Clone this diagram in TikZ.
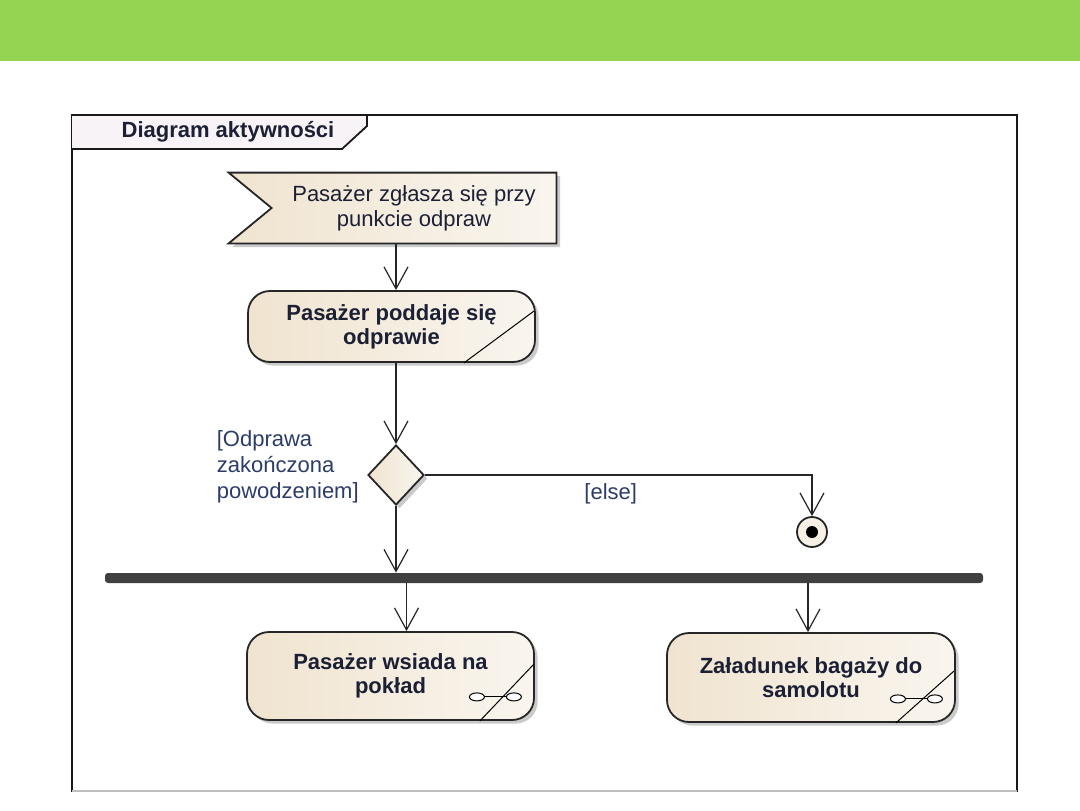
\documentclass[tikz,border=0pt]{standalone}
\usepackage{fontspec}
\setmainfont{Liberation Sans}
\usetikzlibrary{shapes.geometric,arrows.meta,positioning,calc,backgrounds,shadows}

\definecolor{bandGreen}{RGB}{149,211,82}
\definecolor{boxL}{RGB}{240,228,208}
\definecolor{boxR}{RGB}{249,245,238}
\definecolor{tabFill}{RGB}{247,243,247}
\definecolor{barGray}{RGB}{64,64,64}
\definecolor{txtDark}{RGB}{28,32,52}
\definecolor{guardBlue}{RGB}{44,60,104}

\begin{document}
\begin{tikzpicture}[
    x=0.5pt, y=-0.5pt,
    font=\fontsize{11}{12.5}\selectfont,
    actNode/.style={
        rectangle, rounded corners=11pt, draw=black!85, line width=0.9pt,
        left color=boxL, right color=boxR, font=\fontsize{11}{12}\selectfont\bfseries,
        text=txtDark, align=center, inner sep=0pt,
        drop shadow={shadow xshift=1.8pt, shadow yshift=-1.8pt, fill=black!35, opacity=0.6}
    },
    evtNode/.style={
        rectangle, draw=none, align=center, inner sep=0pt, text=txtDark,
        minimum width=142pt, minimum height=35pt
    },
    evtShape/.style={
        draw=black!85, line width=0.9pt, left color=boxL, right color=boxR,
        drop shadow={shadow xshift=1.8pt, shadow yshift=-1.8pt, fill=black!35, opacity=0.6}
    },
    decNode/.style={
        diamond, draw=black!85, line width=0.9pt, left color=boxL, right color=boxR,
        minimum width=28pt, minimum height=30pt, inner sep=0pt,
        drop shadow={shadow xshift=1.8pt, shadow yshift=-1.8pt, fill=black!35, opacity=0.6}
    },
    finNode/.style={
        circle, draw=black!85, line width=0.9pt, fill=boxR!70!boxL,
        minimum size=15pt, inner sep=0pt
    },
    forkBar/.style={
        rectangle, rounded corners=1.5pt, fill=barGray, draw=none,
        minimum width=439pt, minimum height=5pt, inner sep=0pt
    },
    guardLbl/.style={text=guardBlue, align=left, inner sep=1pt},
    markLine/.style={draw=black, line width=0.5pt},
    flowArrow/.style={
        -{Straight Barb[length=11pt, width=12pt, line width=0.6pt]},
        line width=0.9pt, draw=black!85
    }
]
\useasboundingbox (0,0) rectangle (1080,810);

% Header band
\fill[bandGreen] (0,0) rectangle (1080,61);

% Diagram frame
\draw[line width=1pt, draw=black!90] (72,792) -- (72,115) -- (1017,115) -- (1017,792);
\draw[line width=1pt, draw=black!25] (72,791) -- (1017,791);
\draw[line width=0.9pt, draw=black!90, fill=tabFill] (72,115) -- (367,115) -- (367,126) -- (342,149) -- (72,149);
\node[font=\fontsize{11}{12}\selectfont\bfseries, text=txtDark] (title) at (228,132) {Diagram aktywności};

% Accept event
\node[evtNode] (zgl) at (414,208) {Pasażer zgłasza się przy\\punkcie odpraw};
\begin{scope}[on background layer]
    \path[evtShape] ($(zgl.north west)+(-43,0)$) -- (zgl.north east) -- (zgl.south east)
        -- ($(zgl.south west)+(-43,0)$) -- (zgl.west) -- cycle;
\end{scope}

% Actions
\node[actNode, minimum width=143.5pt, minimum height=35.5pt] (odp) at (391.5,326.5) {Pasażer poddaje się\\odprawie};
\node[decNode] (dec) at (396,475) {};
\node[finNode] (fin) at (812,532) {};
\node[circle, fill=black, minimum size=6pt, inner sep=0pt] (finDot) at (fin) {};
\node[forkBar] (fork) at (544,578) {};
\node[actNode, minimum width=143.5pt, minimum height=44pt] (wsi) at (390.5,676) {Pasażer wsiada na\\pokład};
\node[actNode, minimum width=144pt, minimum height=44.5pt] (zal) at (811,677.5) {Załadunek bagaży do\\samolotu};

% Corner marks
\draw[markLine] ($(odp.north east)+(-2,21)$) -- ($(odp.south east)+(-72,0)$);
\draw[markLine] ($(wsi.north east)+(-1,33)$) -- ($(wsi.south east)+(-55,0)$);
\draw[markLine] ($(zal.north east)+(-2,39)$) -- ($(zal.south east)+(-60,0)$);
\foreach \act in {wsi,zal} {
    \draw[line width=0.5pt, fill=white] ($(\act.south east)+(-58,-24)$) ellipse (7.5 and 4);
    \draw[line width=0.5pt, fill=white] ($(\act.south east)+(-21,-24)$) ellipse (7.5 and 4);
    \draw[line width=0.5pt] ($(\act.south east)+(-50.5,-24)$) -- ($(\act.south east)+(-28.5,-24)$);
}

% Flows
\draw[flowArrow] (zgl.south -| dec.north) -- (odp.north -| dec.north);
\draw[flowArrow] (odp.south -| dec.north) -- (dec.north);
\draw[flowArrow] (dec.east) -| node[pos=0.24, below=3pt, guardLbl] {[else]} (fin.north);
\draw[flowArrow] (dec.south) -- (fork.north -| dec.south);
\draw[flowArrow] ([xshift=8pt]wsi.north |- fork.south) -- ([xshift=8pt]wsi.north);
\draw[flowArrow] ([xshift=-1.5pt]zal.north |- fork.south) -- ([xshift=-1.5pt]zal.north);

% Guard
\node[guardLbl, left=3pt of dec, yshift=4pt, font=\fontsize{11}{13}\selectfont] (gOk) {[Odprawa\\zakończona\\powodzeniem]};

\end{tikzpicture}
\end{document}
